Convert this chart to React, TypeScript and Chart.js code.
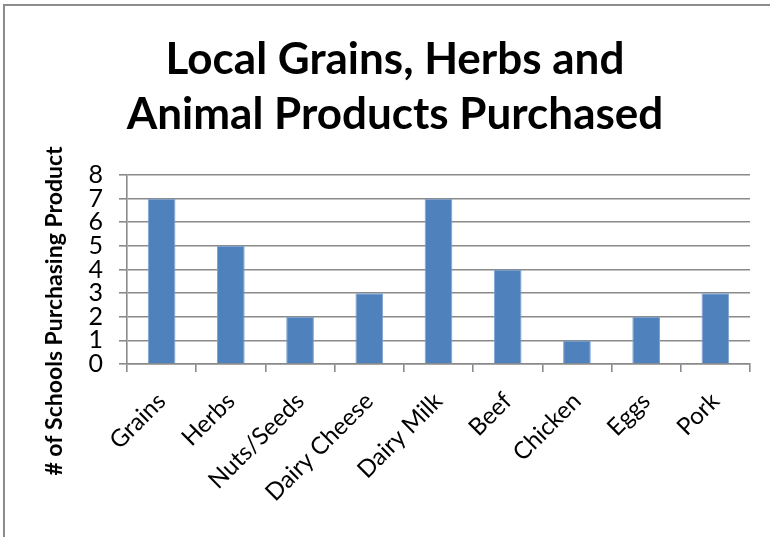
import React, { useEffect, useRef } from "react";
import { Chart, registerables } from "chart.js";

Chart.register(...registerables);

const categories = ["Grains", "Herbs", "Nuts/Seeds", "Dairy Cheese", "Dairy Milk", "Beef", "Chicken", "Eggs", "Pork"];
const schools = [7, 5, 2, 3, 7, 4, 1, 2, 3];
const titleLines = ["Local Grains, Herbs and", "Animal Products Purchased"];
const yTitle = "# of Schools Purchasing Product";

const FONT = "Lato, 'Open Sans', sans-serif";

const yTitlePlugin = {
  id: "yTitleCustom",
  afterDraw(chart: any) {
    const { ctx, chartArea } = chart;
    ctx.save();
    ctx.translate(chartArea.left - 72, 311);
    ctx.rotate(-Math.PI / 2);
    ctx.font = `bold 23px ${FONT}`;
    ctx.fillStyle = "#000";
    ctx.textAlign = "center";
    ctx.textBaseline = "middle";
    ctx.fillText(yTitle, 0, 0);
    ctx.restore();
  },
};

export default function App() {
  const ref = useRef<HTMLCanvasElement | null>(null);
  useEffect(() => {
    if (!ref.current) return;
    const chart = new Chart(ref.current, {
      type: "bar",
      data: {
        labels: categories,
        datasets: [
          {
            data: schools,
            backgroundColor: "#4F81BD",
            borderColor: "#7ea3d2",
            borderWidth: 1,
            borderSkipped: "bottom",
            categoryPercentage: 1,
            barPercentage: 0.4,
          },
        ],
      },
      options: {
        animation: false,
        responsive: false,
        devicePixelRatio: 1,
        layout: { padding: { left: 20, right: 0, top: 32, bottom: 0 } },
        plugins: {
          legend: { display: false },
          tooltip: { enabled: false },
          title: {
            display: true,
            text: titleLines,
            color: "#000",
            font: { family: FONT, size: 44, weight: "bold", lineHeight: 1.25 },
            padding: { top: 0, bottom: 33 },
          },
        },
        scales: {
          x: {
            afterFit(scale: any) {
              scale.height = 173;
            },
            grid: {
              offset: true,
              drawOnChartArea: false,
              drawTicks: true,
              tickLength: 8,
              color: "#8a8a8a",
              lineWidth: 1.6,
            },
            border: { color: "#8a8a8a", width: 1.6 },
            ticks: {
              color: "#000",
              font: { family: FONT, size: 24 },
              minRotation: 45,
              maxRotation: 45,
              padding: 15,
              autoSkip: false,
            },
          },
          y: {
            min: 0,
            max: 8,
            afterFit(scale: any) {
              scale.width = 107;
            },
            grid: {
              color: "#8a8a8a",
              lineWidth: 1.6,
              tickLength: 8,
            },
            border: { color: "#8a8a8a", width: 1.6 },
            ticks: {
              stepSize: 1,
              autoSkip: false,
              color: "#000",
              font: { family: FONT, size: 25 },
              padding: 16,
            },
          },
          yRight: {
            position: "right",
            min: 0,
            max: 8,
            afterFit(scale: any) {
              scale.width = 20;
            },
            grid: { display: false, drawOnChartArea: false },
            border: { display: false },
            ticks: { display: false },
          },
        },
      },
      plugins: [yTitlePlugin],
    });
    return () => chart.destroy();
  }, []);

  return (
    <div style={{ position: "fixed", left: 0, top: 0, width: 770, height: 537, overflow: "hidden", background: "#fff" }}>
      <div
        style={{
          position: "absolute",
          left: 3,
          top: 4,
          width: 800,
          height: 600,
          border: "2px solid #8c8c8c",
          boxShadow: "1px 1px 2px rgba(0,0,0,0.25)",
        }}
      />
      <canvas ref={ref} width={770} height={537} style={{ position: "absolute", left: 0, top: 0, width: 770, height: 537 }} />
    </div>
  );
}
